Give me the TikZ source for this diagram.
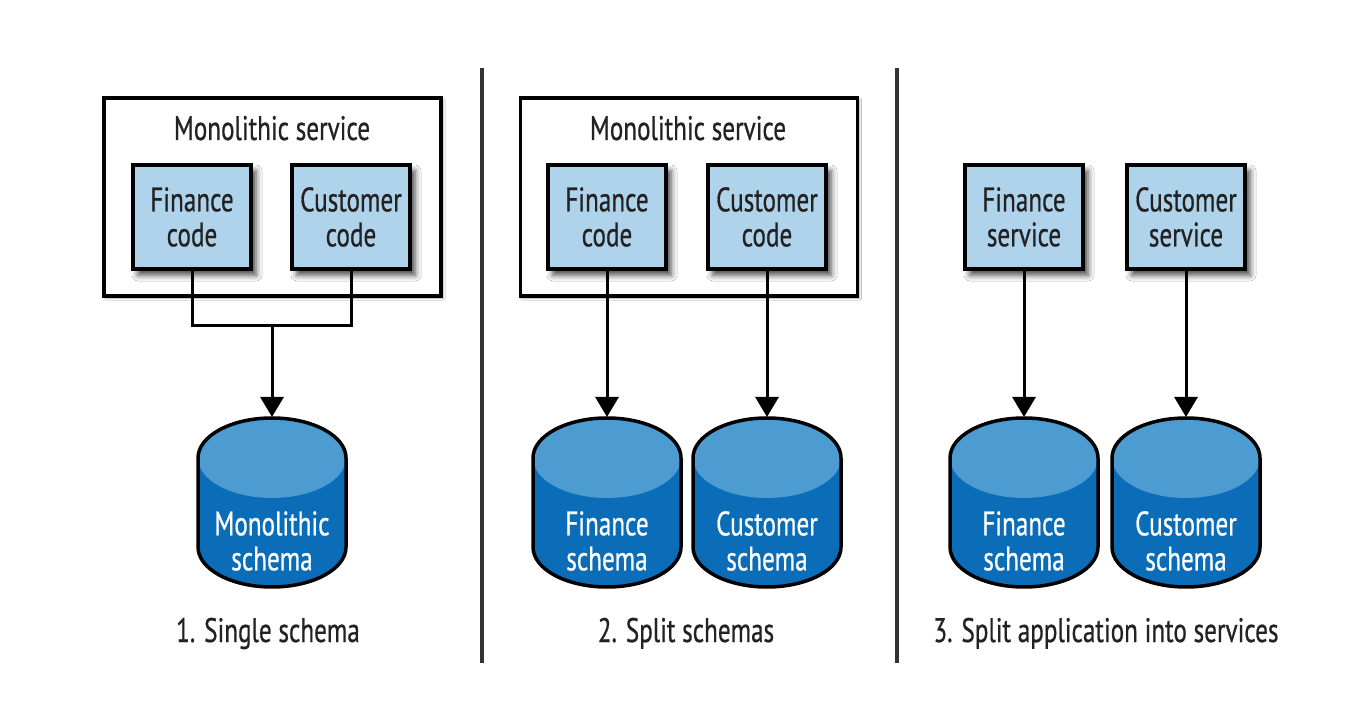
\documentclass[tikz,border=0pt]{standalone}
\usepackage{fontspec}
\setmainfont[FakeStretch=0.74,FakeBold=0.6]{PT Sans}
\usetikzlibrary{arrows.meta,shadows.blur}
\definecolor{boxblue}{HTML}{B0D3EC}
\definecolor{dbtop}{HTML}{4C9BD1}
\definecolor{dbbody}{HTML}{0B6DB7}
\definecolor{divider}{HTML}{333333}
\definecolor{txt}{HTML}{222222}
\tikzset{
  lbl/.style={font=\fontsize{34}{35}\selectfont, align=center, inner sep=0pt, text=txt},
  codebox/.style={lbl, draw=black, line width=3.5pt, fill=boxblue,
    minimum width=118pt, minimum height=104pt,
    blur shadow={shadow xshift=5pt, shadow yshift=-6pt, shadow blur radius=6pt, shadow opacity=75}},
  outerbox/.style={draw=black, line width=3.5pt, fill=white,
    minimum width=337pt, minimum height=198pt, inner sep=0pt,
    blur shadow={shadow xshift=2pt, shadow yshift=-2pt, shadow blur radius=2pt, shadow opacity=35}},
  conn/.style={line width=3pt},
  arr/.style={conn, -{Triangle[width=23pt,length=20pt]}},
  divline/.style={draw=divider, line width=4pt},
  dbtext/.style={lbl, text=white},
  caption/.style={lbl, anchor=base},
}
\newcommand\dbcyl[4]{%
  \fill[dbbody] (#2-74,458) -- (#2-74,547) arc[start angle=180,end angle=360,x radius=74pt,y radius=40pt]
     -- (#2+74,458) arc[start angle=0,end angle=180,x radius=74pt,y radius=40pt] -- cycle;
  \fill[dbtop] (#2,458) ellipse [x radius=74pt, y radius=40pt];
  \draw[line width=3.5pt] (#2-74,458) -- (#2-74,547) arc[start angle=180,end angle=360,x radius=74pt,y radius=40pt]
     -- (#2+74,458) arc[start angle=0,end angle=180,x radius=74pt,y radius=40pt] -- cycle;
  \coordinate (#1top) at (#2,417);
  \node[dbtext] (#1) at (#2,541) {#3\\#4};
}
\begin{document}
\begin{tikzpicture}[x=1pt,y=-1pt]
\useasboundingbox[fill=white] (0,0) rectangle (1352,708);

% dividers
\coordinate (d1a) at (482,68); \coordinate (d1b) at (482,663);
\coordinate (d2a) at (897,68); \coordinate (d2b) at (897,663);
\draw[divline] (d1a) -- (d1b);
\draw[divline] (d2a) -- (d2b);

% panel 1
\node[outerbox] (ms1) at (272.5,197) {};
\node[lbl, anchor=base] (t1) at (272,140) {Monolithic service};
\node[codebox] (fc1) at (192,217) {Finance\\code};
\node[codebox] (cc1) at (351,217) {Customer\\code};
\dbcyl{db1}{272}{Monolithic}{schema}
\coordinate (join1) at (272,326);
\draw[conn] (fc1.south) |- (join1) -| (cc1.south);
\draw[arr] (join1) -- (db1top);
\node[caption] (c1) at (268,642) {1. Single schema};

% panel 2
\node[outerbox] (ms2) at (689,197) {};
\node[lbl, anchor=base] (t2) at (688,140) {Monolithic service};
\node[codebox] (fc2) at (607,217) {Finance\\code};
\node[codebox] (cc2) at (767,217) {Customer\\code};
\dbcyl{db2a}{607}{Finance}{schema}
\dbcyl{db2b}{767}{Customer}{schema}
\draw[arr] (fc2.south) -- (db2atop);
\draw[arr] (cc2.south) -- (db2btop);
\node[caption] (c2) at (686,642) {2. Split schemas};

% panel 3
\node[codebox] (fs3) at (1024,217) {Finance\\service};
\node[codebox] (cs3) at (1186,217) {Customer\\service};
\dbcyl{db3a}{1024}{Finance}{schema}
\dbcyl{db3b}{1186}{Customer}{schema}
\draw[arr] (fs3.south) -- (db3atop);
\draw[arr] (cs3.south) -- (db3btop);
\node[caption] (c3) at (1106,642) {3. Split application into services};
\end{tikzpicture}
\end{document}
